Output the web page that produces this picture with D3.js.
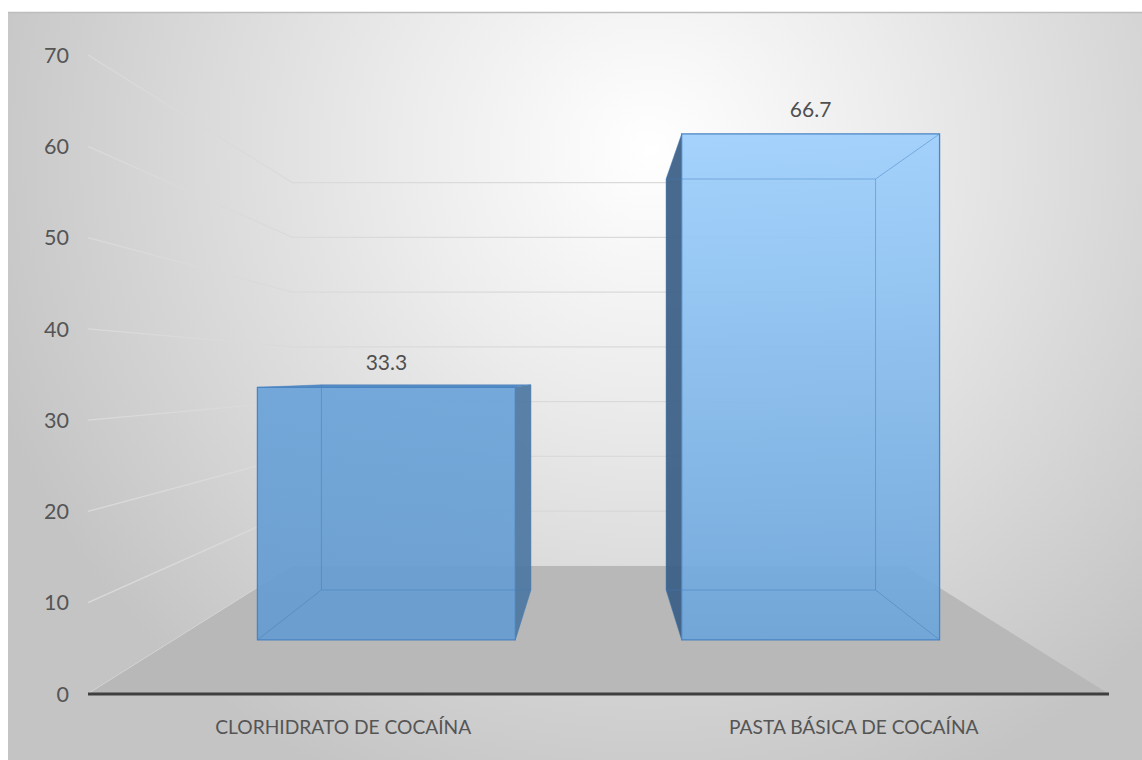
<!DOCTYPE html>
<html>
<head>
<meta charset="utf-8">
<script src="https://cdn.jsdelivr.net/npm/d3@7"></script>
<style>
  html, body { margin: 0; padding: 0; background: #ffffff; }
  svg { display: block; }
  text { font-family: Lato, "Open Sans", sans-serif; fill: #555555; }
</style>
</head>
<body>
<svg id="chart" width="1142" height="760"></svg>
<script>
// ---- data ----
const categories = ["CLORHIDRATO DE COCAÍNA", "PASTA BÁSICA DE COCAÍNA"];
const values = [33.3, 66.7];
const valueLabels = ["33.3", "66.7"];
const tickValues = [0, 10, 20, 30, 40, 50, 60, 70];

// ---- layout ----
const W = 1142, H = 760;
const X0 = 88, X1 = 1109;           // front floor edge
const yMin = 694, yMax = 55;        // front-plane value axis
const vx = (X0 + X1) / 2, vy = 374; // vanishing point
const sWall = 0.6, sBarFront = 0.831, sBarBack = 0.675;

const svg = d3.select("#chart");
const defs = svg.append("defs");

const x = d3.scaleBand().domain(categories).range([X0, X1]).paddingInner(0.392).paddingOuter(0.196);
const y = d3.scaleLinear().domain([0, 70]).range([yMin, yMax]);

function P(X, Y, s) { return [vx + (X - vx) * s, vy + (Y - vy) * s]; }

// background gradient
const bg = defs.append("radialGradient").attr("id", "bg")
  .attr("gradientUnits", "userSpaceOnUse").attr("cx", 650).attr("cy", 150).attr("r", 700);
bg.append("stop").attr("offset", 0).attr("stop-color", "#ffffff");
bg.append("stop").attr("offset", 0.35).attr("stop-color", "#ececec");
bg.append("stop").attr("offset", 1).attr("stop-color", "#c4c4c4");

svg.append("rect").attr("x", 8).attr("y", 12).attr("width", W - 8).attr("height", H - 12).attr("fill", "url(#bg)");
svg.append("line").attr("x1", 8).attr("x2", W).attr("y1", 12.5).attr("y2", 12.5)
  .attr("stroke", "#bdbdbd").attr("stroke-width", 1.5);

// gridlines: side wall + back wall
const grid = svg.append("g").attr("fill", "none").attr("stroke", "#dadada").attr("stroke-width", 1.3);
tickValues.forEach(v => {
  const a = P(X0, y(v), 1), b = P(X0, y(v), sWall), c = P(X1, y(v), sWall);
  grid.append("path").attr("d", d3.line()([a, b, c]));
});

// floor
const floorPts = [P(X0, y(0), 1), P(X1, y(0), 1), P(X1, y(0), sWall), P(X0, y(0), sWall)];
svg.append("path").attr("d", d3.line()(floorPts) + "Z").attr("fill", "#b8b8b8");

// axis line
svg.append("line").attr("x1", X0).attr("x2", X1).attr("y1", y(0)).attr("y2", y(0))
  .attr("stroke", "#3f3f3f").attr("stroke-width", 3);

// tick labels
svg.append("g").selectAll("text").data(tickValues).join("text")
  .attr("x", 69).attr("y", d => y(d)).attr("dy", "0.36em")
  .attr("text-anchor", "end").attr("font-size", 21.5).text(d => d);

// category labels
svg.append("g").selectAll("text").data(categories).join("text")
  .attr("x", d => x(d) + x.bandwidth() / 2).attr("y", 734)
  .attr("text-anchor", "middle").attr("font-size", 19.2).text(d => d);

// bar gradients
const barTop = ["#6ba3d9", "#9dcffd"];
const barBottom = ["#659cd1", "#6ca5da"];
categories.forEach((c, i) => {
  const g = defs.append("linearGradient").attr("id", "bar" + i).attr("x1", 0).attr("x2", 0).attr("y1", 0).attr("y2", 1);
  g.append("stop").attr("offset", 0).attr("stop-color", barTop[i]);
  g.append("stop").attr("offset", 1).attr("stop-color", barBottom[i]);
});

const line = d3.line();
categories.forEach((c, i) => {
  const xl = x(c), xr = xl + x.bandwidth(), yt = y(values[i]), yb = y(0);
  const F = { lt: P(xl, yt, sBarFront), rt: P(xr, yt, sBarFront), rb: P(xr, yb, sBarFront), lb: P(xl, yb, sBarFront) };
  const B = { lt: P(xl, yt, sBarBack), rt: P(xr, yt, sBarBack), rb: P(xr, yb, sBarBack), lb: P(xl, yb, sBarBack) };
  const g = svg.append("g");

  // visible side face
  if (xr < vx) {
    g.append("path").attr("d", line([F.rt, B.rt, B.rb, F.rb]) + "Z").attr("fill", "#4e77a1").attr("fill-opacity", 0.93);
  } else if (xl > vx) {
    g.append("path").attr("d", line([F.lt, B.lt, B.lb, F.lb]) + "Z").attr("fill", "#3b5f87").attr("fill-opacity", 0.93);
  }
  // top face if below horizon
  if (yt > vy) {
    g.append("path").attr("d", line([F.lt, F.rt, B.rt, B.lt]) + "Z").attr("fill", "#588dc4");
  }
  // front face
  g.append("path").attr("d", line([F.lt, F.rt, F.rb, F.lb]) + "Z")
    .attr("fill", "url(#bar" + i + ")").attr("fill-opacity", 0.92);

  // inner edges seen through the translucent bar
  const inner = g.append("g").attr("fill", "none").attr("stroke", "#3f79b8").attr("stroke-opacity", 0.45).attr("stroke-width", 1);
  inner.append("path").attr("d", line([B.lt, B.rt, B.rb, B.lb]) + "Z");
  ["lt", "rt", "rb", "lb"].forEach(k => {
    inner.append("path").attr("d", line([F[k], B[k]]));
  });
  // front outline
  g.append("path").attr("d", line([F.lt, F.rt, F.rb, F.lb]) + "Z")
    .attr("fill", "none").attr("stroke", "#4a84c3").attr("stroke-width", 1.3);

  // data label
  g.append("text").attr("x", (F.lt[0] + F.rt[0]) / 2).attr("y", F.lt[1] - 17)
    .attr("text-anchor", "middle").attr("font-size", 21).style("fill", "#4f4f4f").text(valueLabels[i]);
});
</script>
</body>
</html>
